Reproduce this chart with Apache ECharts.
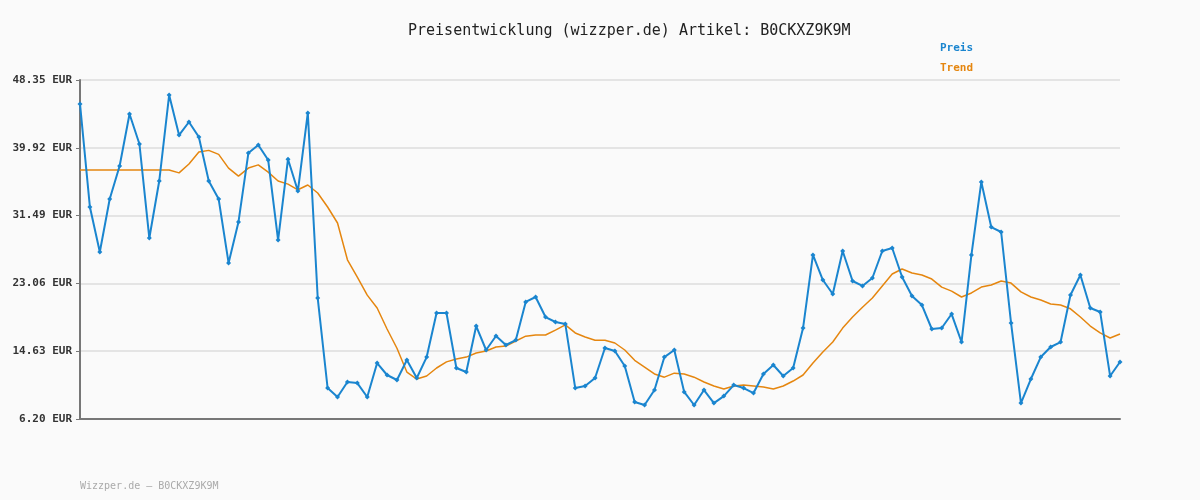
<!DOCTYPE html>
<html><head><meta charset="utf-8">
<script src="https://cdn.jsdelivr.net/npm/echarts@6/dist/echarts.min.js"></script>
<style>body{margin:0;background:#fafafa}#c{width:1200px;height:500px}</style></head>
<body><div id="c"></div>
<script>
const preis=[45.37,32.56,26.96,33.55,37.66,44.12,40.39,28.7,35.79,46.48,41.5,43.13,41.26,35.79,33.55,25.6,30.7,39.27,40.27,38.4,28.45,38.5,34.55,44.25,21.24,10.05,8.93,10.8,10.67,8.93,13.16,11.67,11.05,13.53,11.3,13.9,19.38,19.38,12.54,12.04,17.76,14.78,16.52,15.4,16.02,20.75,21.37,18.88,18.26,18.0,10.05,10.3,11.3,15.03,14.65,12.79,8.31,7.94,9.8,13.9,14.78,9.56,7.94,9.8,8.18,9.05,10.42,10.05,9.43,11.8,12.91,11.55,12.54,17.51,26.6,23.48,21.74,27.09,23.36,22.74,23.73,27.09,27.46,23.86,21.5,20.37,17.39,17.51,19.25,15.77,26.6,35.67,30.07,29.45,18.14,8.18,11.17,13.9,15.15,15.77,21.62,24.1,20.0,19.5,11.55,13.29];
const trend=[37.16,37.16,37.16,37.16,37.16,37.16,37.16,37.16,37.16,37.16,36.8,37.9,39.4,39.6,39.1,37.4,36.4,37.4,37.8,36.9,35.8,35.4,34.7,35.3,34.3,32.56,30.57,26.0,23.85,21.6,20.0,17.39,15.0,12.04,11.17,11.55,12.54,13.3,13.65,13.9,14.4,14.65,15.15,15.27,15.9,16.5,16.65,16.65,17.26,17.9,16.9,16.4,16.0,16.0,15.65,14.78,13.5,12.66,11.8,11.4,11.9,11.8,11.4,10.8,10.3,9.93,10.3,10.42,10.3,10.17,9.93,10.3,10.92,11.67,13.16,14.53,15.77,17.5,18.88,20.1,21.24,22.74,24.23,24.85,24.35,24.1,23.6,22.6,22.1,21.37,21.87,22.6,22.86,23.36,23.1,22.0,21.37,20.99,20.5,20.37,19.9,18.88,17.76,16.9,16.27,16.77];
const cats=preis.map((_,i)=>String(i+1));
const yMin=6.20, yStep=8.43;
const f='"DejaVu Sans Mono", monospace';
const ch=echarts.init(document.getElementById('c'));
ch.setOption({
 backgroundColor:'#fafafa',
 title:{text:'Preisentwicklung (wizzper.de) Artikel: B0CKXZ9K9M',left:403,top:19,textStyle:{fontFamily:f,fontSize:15,fontWeight:'normal',color:'#222'}},
 graphic:[{type:'text',left:80,top:481,style:{text:'Wizzper.de – B0CKXZ9K9M',font:'10px '+f,fill:'#aaa'}}],
 legend:{orient:'vertical',left:930,top:36,itemGap:8,icon:'none',itemWidth:0,
   textStyle:{fontFamily:f,fontSize:11,fontWeight:'bold',color:'inherit'},
   data:[{name:'Preis',textStyle:{color:'#1a85cf'}},{name:'Trend',textStyle:{color:'#e5860f'}}]},
 grid:{left:80,right:80,top:80,bottom:81},
 xAxis:{type:'category',data:cats,boundaryGap:false,axisLine:{lineStyle:{color:'#777',width:2}},axisTick:{show:false},axisLabel:{show:false}},
 yAxis:{type:'value',min:yMin,max:yMin+5*yStep,interval:yStep,
   axisLine:{show:true,lineStyle:{color:'#777',width:2}},axisTick:{show:true,length:4,lineStyle:{color:'#777'}},
   splitLine:{lineStyle:{color:'#e4e4e4',width:2}},
   axisLabel:{fontFamily:f,fontSize:11,fontWeight:'bold',color:'#333',formatter:v=>v.toFixed(2)+' EUR'}},
 series:[
  {name:'Preis',type:'line',data:preis,symbol:'diamond',symbolSize:5,lineStyle:{color:'#1a85cf',width:2},itemStyle:{color:'#1a85cf'},z:3},
  {name:'Trend',type:'line',data:trend,symbol:'none',lineStyle:{color:'#e5860f',width:1.5},itemStyle:{color:'#e5860f'},z:2}
 ]
});
</script></body></html>
